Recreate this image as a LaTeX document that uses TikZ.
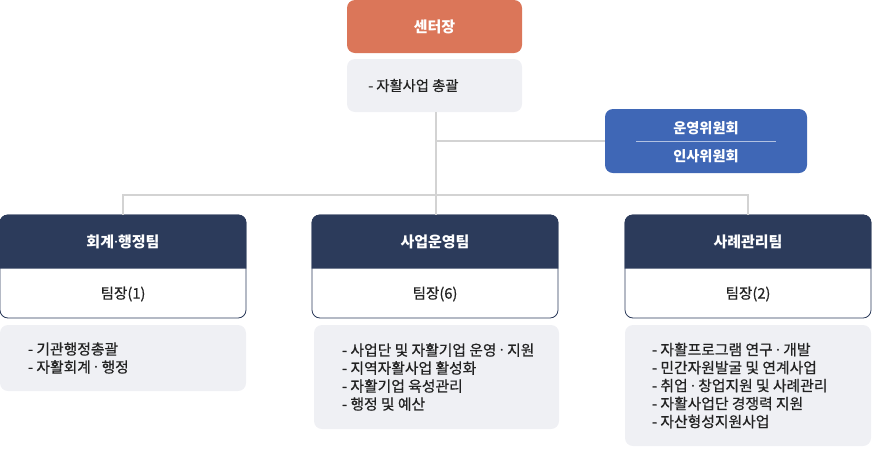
\documentclass[tikz,border=0pt]{standalone}
\usepackage{fontspec}
\setmainfont{Noto Sans CJK KR}
\newfontfamily\medfont[FakeBold=0.6]{Noto Sans CJK KR}
\newfontfamily\dotfont{Noto Sans}
\newcommand{\md}{{\dotfont ·}}
\definecolor{ctrorange}{HTML}{DB7659}
\definecolor{commblue}{HTML}{3F67B6}
\definecolor{teamnavy}{HTML}{2C3B5B}
\definecolor{descgray}{HTML}{EFF0F4}
\definecolor{linegray}{HTML}{D3D3D3}
\definecolor{txtdark}{HTML}{222222}
\begin{document}
\begin{tikzpicture}[x=1pt,y=-1pt,
  conn/.style={draw=linegray, line width=2pt},
  descbox/.style={fill=descgray, rounded corners=8pt, inner sep=0pt},
  teambox/.style={draw=teamnavy, fill=white, line width=0.8pt, rounded corners=8pt, inner sep=0pt},
  headtxt/.style={text=white, font=\fontsize{15}{18}\selectfont\bfseries},
  bodytxt/.style={text=txtdark, font=\medfont\fontsize{14.6}{17}\selectfont},
  listtxt/.style={text=txtdark, font=\medfont\fontsize{14.8}{18}\selectfont, align=left, anchor=west, inner sep=0pt}
]
\useasboundingbox (0,0) rectangle (872,448);
% centre head
\node[fill=ctrorange, rounded corners=8pt, minimum width=175pt, minimum height=53pt, inner sep=0pt, headtxt] (ctr) at (434.5,26.5) {센터장};
\node[descbox, minimum width=175pt, minimum height=53pt] (cdesc) at (434.5,85.5) {};
\node[listtxt, font=\medfont\fontsize{14.3}{18}\selectfont] (cdesctxt) at (368,85.5) {- 자활사업 총괄};
% committees
\node[fill=commblue, rounded corners=8pt, minimum width=202pt, minimum height=64pt, inner sep=0pt] (comm) at (706,141) {};
\node[headtxt, font=\fontsize{14.2}{17}\selectfont\bfseries] (comm1) at (706,128) {운영위원회};
\node[headtxt, font=\fontsize{14.2}{17}\selectfont\bfseries] (comm2) at (706,156) {인사위원회};
\draw[white!60!commblue, line width=0.8pt] ([xshift=-70pt]comm.center) -- ([xshift=70pt]comm.center);
% teams
\node[teambox, minimum width=246pt, minimum height=103pt] (t1) at (123,266.5) {};
\node[teambox, minimum width=246pt, minimum height=103pt] (t2) at (435,266.5) {};
\node[teambox, minimum width=246pt, minimum height=103pt] (t3) at (748,266.5) {};
\foreach \n in {t1,t2,t3}{
  \fill[teamnavy] ([yshift=-54pt]\n.north west) [rounded corners=8pt] -- (\n.north west) -- (\n.north east) [sharp corners] -- ([yshift=-54pt]\n.north east) -- cycle;
}
\node[headtxt] (t1head) at (123,242) {회계\md 행정팀};
\node[headtxt] (t2head) at (435,242) {사업운영팀};
\node[headtxt] (t3head) at (748,242) {사례관리팀};
\node[bodytxt] (t1body) at (123,294) {팀장(1)};
\node[bodytxt] (t2body) at (435,294) {팀장(6)};
\node[bodytxt] (t3body) at (748,294) {팀장(2)};
% team descriptions
\node[descbox, minimum width=246pt, minimum height=66pt] (d1) at (123,358) {};
\node[listtxt] (d1txt) at ([xshift=28pt]d1.west) {- 기관행정총괄\\- 자활회계 \md{} 행정};
\node[descbox, minimum width=245pt, minimum height=104pt] (d2) at (436.5,377) {};
\node[listtxt] (d2txt) at ([xshift=28pt]d2.west) {- 사업단 및 자활기업 운영 \md{} 지원\\- 지역자활사업 활성화\\- 자활기업 육성관리\\- 행정 및 예산};
\node[descbox, minimum width=246pt, minimum height=121pt] (d3) at (748,385.5) {};
\node[listtxt] (d3txt) at ([xshift=27pt]d3.west) {- 자활프로그램 연구 \md{} 개발\\- 민간자원발굴 및 연계사업\\- 취업 \md{} 창업지원 및 사례관리\\- 자활사업단 경쟁력 지원\\- 자산형성지원사업};
% connectors
\coordinate (bar) at (436,195);
\draw[conn] (cdesc.south -| bar) -- (bar);
\draw[conn] (bar |- comm.west) -- (comm.west);
\draw[conn] (t1.north) -- (t1.north |- bar) -- (t3.north |- bar) -- (t3.north);
\draw[conn] (bar) -- (t2.north -| bar);
\end{tikzpicture}
\end{document}
